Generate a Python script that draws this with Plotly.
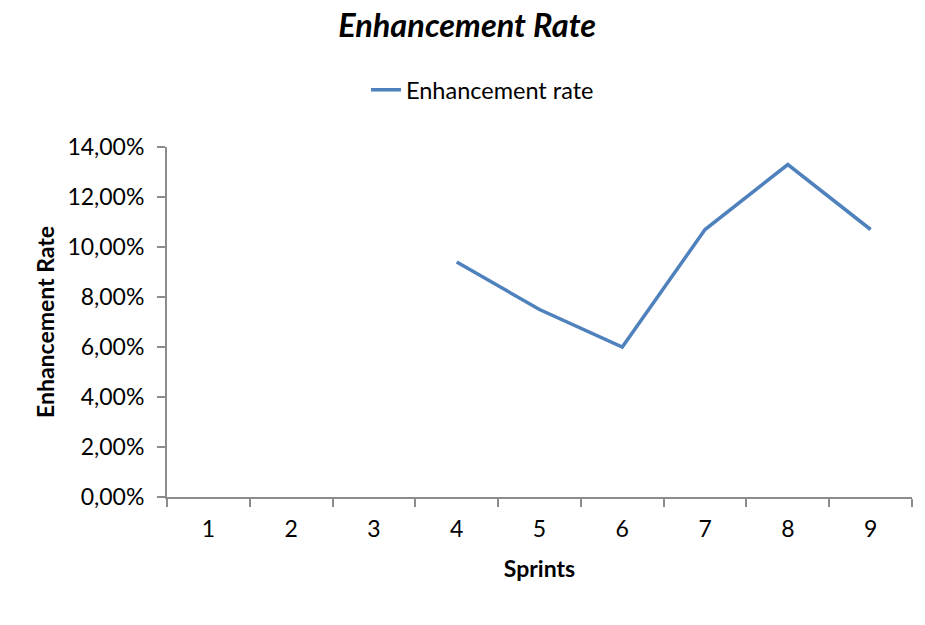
import plotly.graph_objects as go

sprints = ["1", "2", "3", "4", "5", "6", "7", "8", "9"]
enhancement_rate = [None, None, None, 0.094, 0.075, 0.060, 0.107, 0.133, 0.107]
y_ticks = [0, 0.02, 0.04, 0.06, 0.08, 0.10, 0.12, 0.14]

FONT = "Lato"
AXIS_COLOR = "#8c8c8c"

fig = go.Figure()
fig.add_trace(go.Scatter(
    x=sprints, y=enhancement_rate, mode="lines", name="Enhancement rate",
    line=dict(color="#4F81BD", width=3.5), connectgaps=False,
))

fig.update_layout(
    width=925, height=625,
    paper_bgcolor="white", plot_bgcolor="white",
    margin=dict(l=167, r=13, t=147, b=128, autoexpand=False),
    separators=", ",
    font=dict(family=FONT, size=23, color="black"),
    title=dict(text="<b><i>Enhancement Rate</i></b>", x=0.505, xanchor="center",
               xref="container", y=0.978, yanchor="top", yref="container",
               pad=dict(t=0, b=0),
               font=dict(family=FONT, size=32.5, color="black")),
    showlegend=True,
    legend=dict(orientation="h", xref="container", x=0.5216, xanchor="center",
                yref="container", y=0.856, yanchor="middle",
                font=dict(family=FONT, size=23.5, color="black"),
                bgcolor="rgba(0,0,0,0)"),
    xaxis=dict(type="category", categoryorder="array", categoryarray=sprints,
               range=[-0.5, 8.5], showgrid=False, zeroline=False,
               showline=True, linecolor=AXIS_COLOR, linewidth=2,
               ticks="outside", tickson="boundaries", ticklen=8, tickwidth=2,
               tickcolor=AXIS_COLOR, ticklabelstandoff=10, automargin=False,
               tickfont=dict(family=FONT, size=23, color="black"),
               title=dict(text="<b>Sprints</b>", standoff=20,
                          font=dict(family=FONT, size=23, color="black"))),
    yaxis=dict(range=[0, 0.14], tickvals=y_ticks, tickformat=".2%",
               showgrid=False, zeroline=False,
               showline=True, linecolor=AXIS_COLOR, linewidth=2,
               ticks="outside", ticklen=8, tickwidth=2, tickcolor=AXIS_COLOR,
               ticklabelstandoff=8, automargin=False,
               tickfont=dict(family=FONT, size=23, color="black"),
               title=dict(text="<b>Enhancement Rate</b>", standoff=6,
                          font=dict(family=FONT, size=23, color="black"))),
)

fig.write_html("out.html", config={"displayModeBar": False},
               post_script="document.body.style.margin='0';")
